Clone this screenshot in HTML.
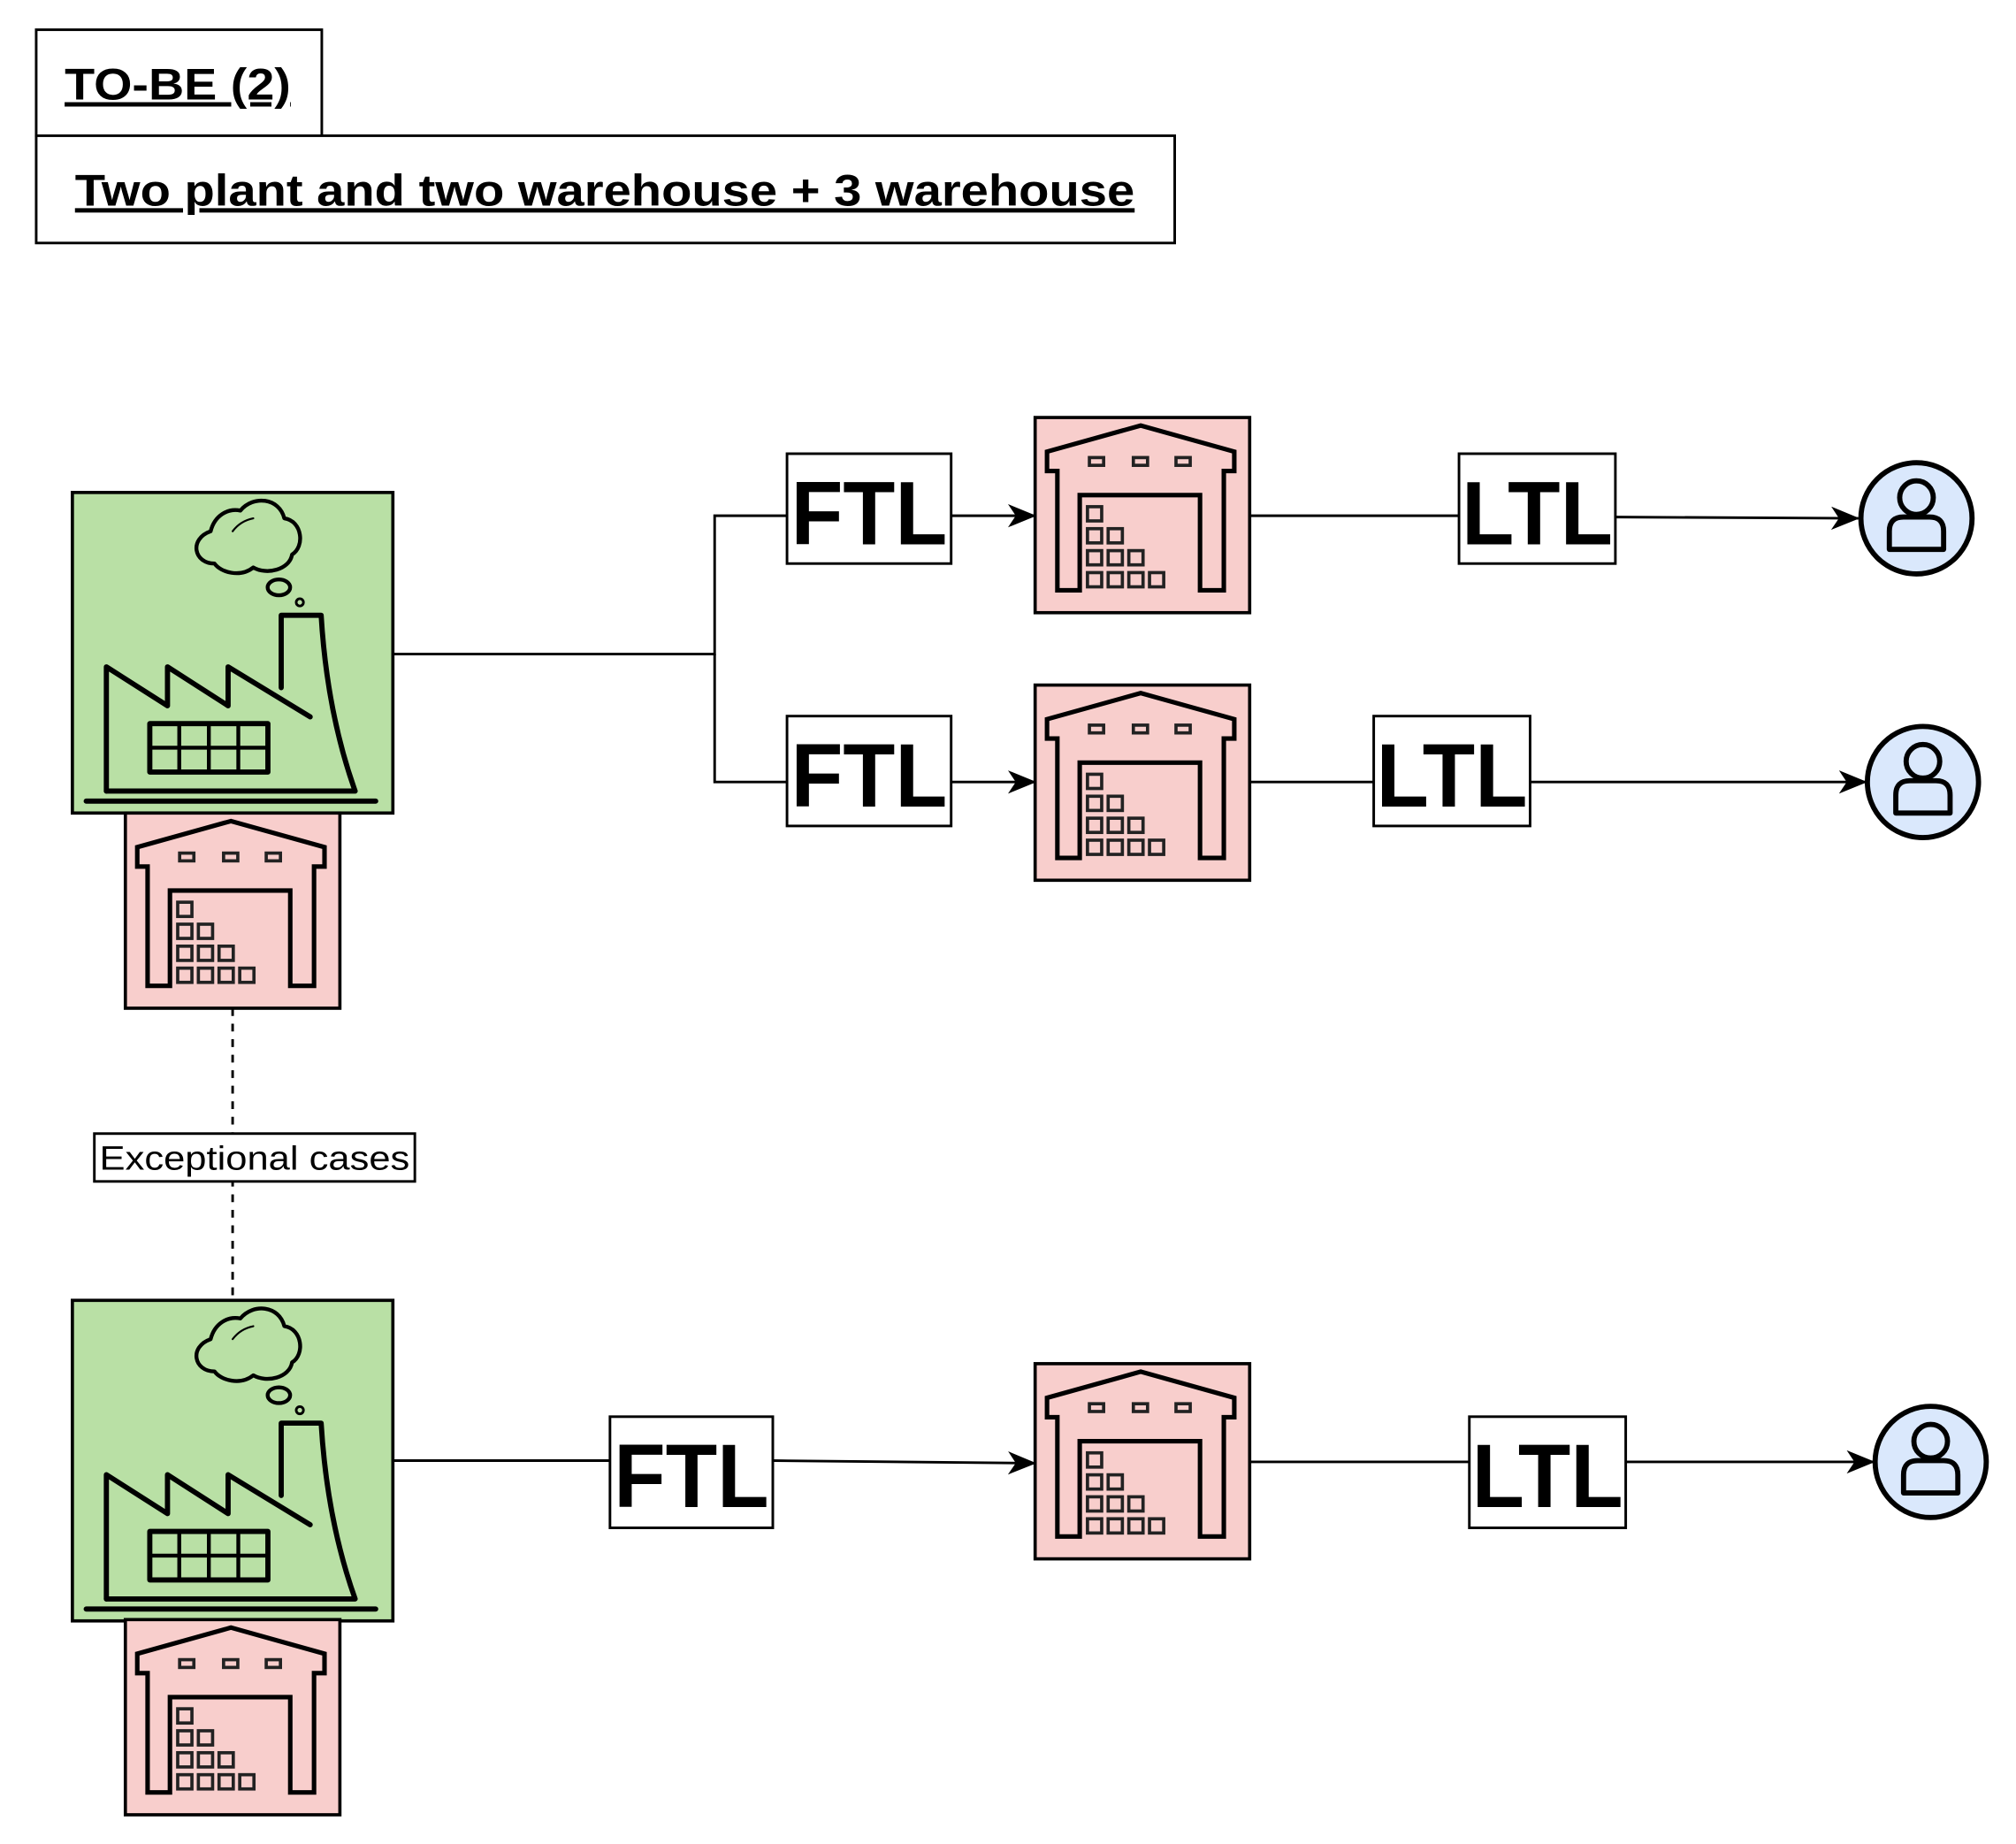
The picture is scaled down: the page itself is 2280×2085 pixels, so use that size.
<!DOCTYPE html>
<html><head><meta charset="utf-8"><style>html,body{margin:0;padding:0;background:#fff}svg{display:block}</style></head>
<body>
<svg width="2280" height="2085" viewBox="0 0 1560 1426.6" xmlns="http://www.w3.org/2000/svg" font-family="Liberation Sans, Arial, sans-serif">
<defs>
<marker id="ar" markerWidth="22" markerHeight="18" refX="21" refY="9" orient="auto" markerUnits="userSpaceOnUse" viewBox="0 0 22 18">
<path d="M0,0 L22,9 L0,18 L6,9 z" fill="#000"/>
</marker>
<g id="fac">
<rect x="0" y="0" width="248" height="248" fill="#b9e0a5" stroke="#000" stroke-width="2.5"/>
<g fill="none" stroke="#000" stroke-width="4" stroke-linejoin="round" stroke-linecap="round">
<line x1="10.7" y1="238.8" x2="234.7" y2="238.8"/>
<path d="M26.3,231 L26.3,134.9 L73.6,165 L73.6,134.9 L120.5,165 L120.5,134.9 L184,173.6"/>
<path d="M161.6,151 L161.6,95 L192.5,95 Q197,170 218.8,231 L26.3,231"/>
<rect x="59.9" y="178.8" width="91.4" height="37.5"/>
<line x1="59.9" y1="197.5" x2="151.3" y2="197.5" stroke-width="3"/>
<line x1="82.7" y1="178.8" x2="82.7" y2="216.3" stroke-width="3"/>
<line x1="105.6" y1="178.8" x2="105.6" y2="216.3" stroke-width="3"/>
<line x1="128.4" y1="178.8" x2="128.4" y2="216.3" stroke-width="3"/>
<path d="M110,55 C94,55 90,36 107,30 C110,18 120,12 130,14 C140,2 160,4 164,20 C178,22 180,42 170,48 C168,60 150,64 140,58 C130,66 115,62 110,55 Z" stroke-width="3"/>
<path d="M124,30 Q130,22 140,20" stroke-width="1.5"/>
<ellipse cx="159.8" cy="73.4" rx="8.7" ry="6.1" stroke-width="3"/>
<circle cx="176" cy="85" r="2.8" stroke-width="2"/>
</g>
</g>
<g id="wh">
<rect x="0" y="0" width="166" height="151" fill="#f8cecc" stroke="#000" stroke-width="2.5"/>
<path d="M9.2,26.4 L81.7,6.2 L154.1,26.4 L154.1,41.4 L146,41.4 L146,133.7 L127.6,133.7 L127.6,60 L34.5,60 L34.5,133.7 L17.2,133.7 L17.2,41.4 L9.2,41.4 Z" fill="none" stroke="#000" stroke-width="3.5"/>
<g fill="none" stroke="#222" stroke-width="2.5">
<rect x="42" y="31" width="11" height="6"/><rect x="76" y="31" width="11" height="6"/><rect x="109" y="31" width="11" height="6"/>
<rect x="40.5" y="69" width="11" height="11"/>
<rect x="40.5" y="86" width="11" height="11"/><rect x="56.5" y="86" width="11" height="11"/>
<rect x="40.5" y="103" width="11" height="11"/><rect x="56.5" y="103" width="11" height="11"/><rect x="72.5" y="103" width="11" height="11"/>
<rect x="40.5" y="120" width="11" height="11"/><rect x="56.5" y="120" width="11" height="11"/><rect x="72.5" y="120" width="11" height="11"/><rect x="88.5" y="120" width="11" height="11"/>
</g>
</g>
<g id="per">
<circle cx="0" cy="0" r="43" fill="#dae8fc" stroke="#000" stroke-width="4"/>
<circle cx="0" cy="-16" r="13" fill="none" stroke="#000" stroke-width="4"/>
<path d="M-21,24 L-21,10 Q-21,-1 -10,-1 L10,-1 Q21,-1 21,10 L21,24 Z" fill="none" stroke="#000" stroke-width="4" stroke-linejoin="round"/>
</g>
</defs>

<rect x="28" y="23" width="221" height="82" fill="#fff" stroke="#000" stroke-width="2"/>
<text x="50" y="77" font-size="34" font-weight="bold" text-decoration="underline" textLength="175" lengthAdjust="spacingAndGlyphs">TO-BE (2)</text>
<rect x="28" y="105" width="881" height="83" fill="#fff" stroke="#000" stroke-width="2"/>
<text x="58" y="159" font-size="34" font-weight="bold" text-decoration="underline" textLength="820" lengthAdjust="spacingAndGlyphs">Two plant and two warehouse + 3 warehouse</text>

<g stroke="#000" stroke-width="2" fill="none">
<polyline points="304,506 553,506 553,399 609,399"/>
<polyline points="553,506 553,605 609,605"/>
<line x1="736" y1="399" x2="801" y2="399" marker-end="url(#ar)"/>
<line x1="736" y1="605" x2="801" y2="605" marker-end="url(#ar)"/>
<line x1="967" y1="399" x2="1129" y2="399"/>
<line x1="1250" y1="400" x2="1438" y2="401" marker-end="url(#ar)"/>
<line x1="967" y1="605" x2="1063" y2="605"/>
<line x1="1184" y1="605" x2="1444" y2="605" marker-end="url(#ar)"/>
<line x1="304" y1="1130" x2="472" y2="1130"/>
<line x1="598" y1="1130" x2="801" y2="1132" marker-end="url(#ar)"/>
<line x1="967" y1="1131" x2="1137" y2="1131"/>
<line x1="1258" y1="1131" x2="1450" y2="1131" marker-end="url(#ar)"/>
<line x1="180" y1="780" x2="180" y2="1005" stroke-dasharray="6,6"/>
</g>
<rect x="73" y="877" width="248" height="37" fill="#fff" stroke="#000" stroke-width="2"/>
<text x="197" y="905" font-size="26" text-anchor="middle" textLength="240" lengthAdjust="spacingAndGlyphs">Exceptional cases</text>

<use href="#fac" x="56" y="381"/>
<use href="#wh" x="97" y="629"/>
<use href="#fac" x="56" y="1006"/>
<use href="#wh" x="97" y="1253"/>
<use href="#wh" x="801" y="323"/>
<use href="#wh" x="801" y="530"/>
<use href="#wh" x="801" y="1055"/>

<g font-size="70" font-weight="bold">
<rect x="609" y="351" width="127" height="85" fill="#fff" stroke="#000" stroke-width="2"/>
<text x="612" y="421" textLength="121" lengthAdjust="spacingAndGlyphs">FTL</text>
<rect x="609" y="554" width="127" height="85" fill="#fff" stroke="#000" stroke-width="2"/>
<text x="612" y="624" textLength="121" lengthAdjust="spacingAndGlyphs">FTL</text>
<rect x="472" y="1096" width="126" height="86" fill="#fff" stroke="#000" stroke-width="2"/>
<text x="475" y="1166" textLength="120" lengthAdjust="spacingAndGlyphs">FTL</text>
<rect x="1129" y="351" width="121" height="85" fill="#fff" stroke="#000" stroke-width="2"/>
<text x="1131" y="421" textLength="117" lengthAdjust="spacingAndGlyphs">LTL</text>
<rect x="1063" y="554" width="121" height="85" fill="#fff" stroke="#000" stroke-width="2"/>
<text x="1065" y="624" textLength="117" lengthAdjust="spacingAndGlyphs">LTL</text>
<rect x="1137" y="1096" width="121" height="86" fill="#fff" stroke="#000" stroke-width="2"/>
<text x="1139" y="1166" textLength="117" lengthAdjust="spacingAndGlyphs">LTL</text>
</g>

<use href="#per" x="1483" y="401"/>
<use href="#per" x="1488" y="605"/>
<use href="#per" x="1494" y="1131"/>
</svg>
</body></html>
